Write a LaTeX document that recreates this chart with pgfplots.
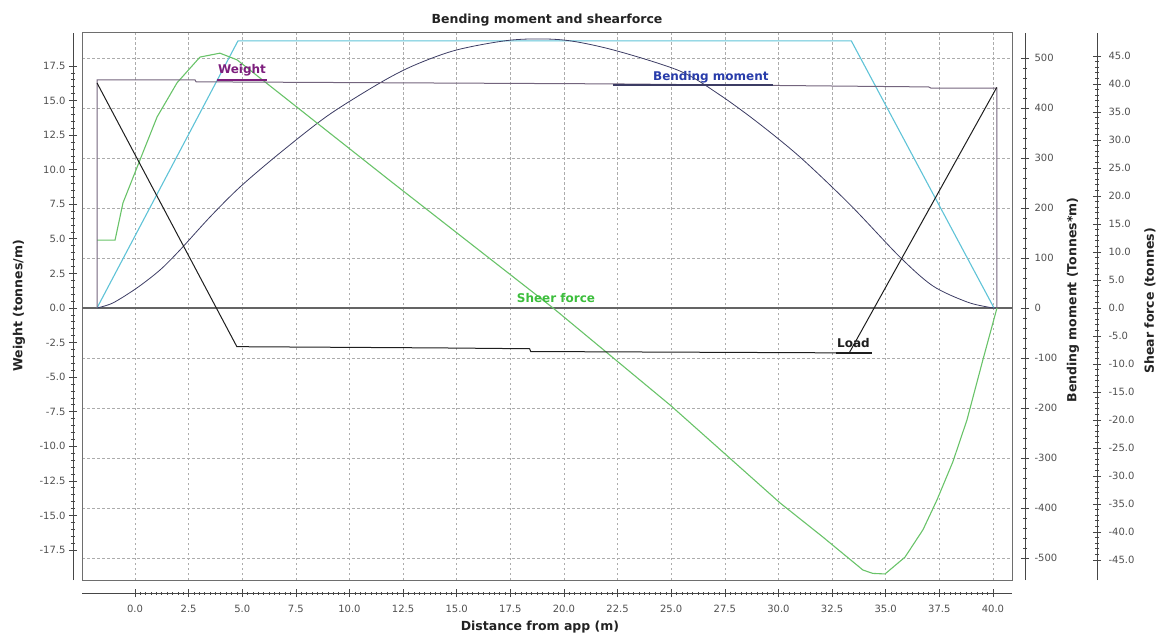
\documentclass[border=0pt]{standalone}
\usepackage{pgfplots}
\pgfplotsset{compat=1.18}
\usepackage{fontspec}
\setmainfont{DejaVu Sans}
\definecolor{cyanl}{RGB}{95,195,215}
\definecolor{shearc}{RGB}{105,195,105}
\definecolor{bmc}{RGB}{60,60,100}
\definecolor{loadc}{RGB}{30,30,30}
\definecolor{weightc}{RGB}{115,100,125}
\definecolor{weightlab}{RGB}{125,30,125}
\definecolor{bmlab}{RGB}{40,60,170}
\definecolor{shearlab}{RGB}{60,190,60}
\definecolor{framec}{RGB}{110,110,110}
\definecolor{zeroc}{RGB}{100,100,100}
\definecolor{spinec}{RGB}{70,70,70}
\definecolor{tickc}{RGB}{80,80,80}
\definecolor{labc}{RGB}{35,35,35}
\pgfplotsset{
  /pgf/number format/assume math mode=true,
  base/.style={scale only axis, width=930pt, height=547pt, xmin=-2.47, xmax=40.89, anchor=south west},
  hidden/.style={base, at={(82pt,61pt)}, hide axis},
  spine/.style={base,
    tick align=center, major tick length=8pt, minor tick length=4pt,
    tick style={draw=spinec, line width=0.6pt},
    ticklabel style={font=\fontsize{10}{12}\selectfont, text=tickc}},
  noarrow/.style={axis line style={-, draw=spinec, line width=0.8pt},
    every outer x axis line/.append style={-},
    every outer y axis line/.append style={-},
    every inner x axis line/.append style={-},
    every inner y axis line/.append style={-},
    x axis line style={-}, y axis line style={-}},
}
\begin{document}
\begin{tikzpicture}
\path[use as bounding box] (0pt,0pt) rectangle (1157pt,641pt);

% grid and frame
\begin{axis}[base, at={(82pt,61pt)}, ymin=-544.1, ymax=549.9,
  xtick={0,2.5,...,40}, ytick={-500,-400,...,500},
  xticklabels={}, yticklabels={}, major tick length=0pt,
  grid=major, grid style={gray!65, line width=0.6pt, dash pattern=on 2.5pt off 2.5pt},
  axis line style={draw=framec, line width=1pt}]
\addplot[zeroc, line width=2.6pt] coordinates {(-2.47,0) (40.89,0)};
\end{axis}

% bending moment units
\begin{axis}[hidden, ymin=-544.1, ymax=549.9]
\addplot[cyanl, line width=1.1pt] coordinates {(-1.77,0) (4.8,534) (33.4,534) (40.05,0)};
\addplot[bmc, line width=0.8pt, smooth] coordinates {(-1.77,0) (-1.03,10) (0.09,40) (1.17,76) (2.1,116) (3.5,182) (4.9,242) (6.76,310) (9,385) (11.42,450) (13,485) (15.0,516) (17.6,536) (19.95,536) (22.3,516) (25.4,474) (27.2,428) (29.0,372) (31.0,302) (33.33,207) (35.66,102) (37.2,44) (38.79,12) (39.86,1) (40.18,0)};
\end{axis}

% shear units
\begin{axis}[hidden, ymin=-48.58, ymax=49.10]
\addplot[shearc, line width=1.1pt] coordinates {(-1.77,12.1) (-0.93,12.1) (-0.56,18.75) (0.23,26.4) (1.03,34.1) (1.96,40.2) (3.03,44.8) (3.96,45.5) (4.76,44.3) (12,22.4) (19.49,0) (25,-17.5) (30.07,-34.8) (32.07,-40.9) (33.94,-46.8) (34.4,-47.4) (34.97,-47.5) (35.9,-44.5) (36.74,-39.6) (37.39,-34.3) (38.13,-27.5) (38.79,-20) (39.53,-9.3) (40.19,0)};
\end{axis}

% weight units
\begin{axis}[hidden, ymin=-19.67, ymax=19.88]
\addplot[weightc, line width=1pt] coordinates {(-1.77,0) (-1.77,16.49) (2.8,16.49) (2.85,16.35) (22.3,16.2) (37.0,15.98) (37.1,15.9) (40.18,15.9) (40.18,0)};
\addplot[loadc, line width=1pt] coordinates {(-1.77,16.27) (4.75,-2.80) (14.2,-2.89) (18.4,-2.95) (18.45,-3.15) (33.3,-3.25) (40.18,15.95)};
\draw[weightlab, line width=1.8pt] (axis cs:3.82,16.49) -- (axis cs:6.15,16.49);
\draw[bmc, line width=1.2pt] (axis cs:22.28,16.12) -- (axis cs:29.74,16.12);
\draw[loadc, line width=1.3pt] (axis cs:32.7,-3.25) -- (axis cs:34.36,-3.25);
\node[font=\bfseries\fontsize{12}{14}\selectfont, text=weightlab] at (axis cs:4.99,17.2) {Weight};
\node[font=\bfseries\fontsize{12}{14}\selectfont, text=bmlab] at (axis cs:26.85,16.7) {Bending moment};
\node[font=\bfseries\fontsize{12}{14}\selectfont, text=shearlab] at (axis cs:19.63,0.72) {Sheer force};
\node[font=\bfseries\fontsize{12}{14}\selectfont, text=loadc] at (axis cs:33.5,-2.53) {Load};
\end{axis}

% left spine
\begin{axis}[spine, at={(73pt,61pt)}, ymin=-19.67, ymax=19.88,
  axis y line=left, axis x line=none, noarrow,
  ytick={-17.5,-15,...,17.5}, minor y tick num=4,
  yticklabel style={/pgf/number format/.cd, fixed, fixed zerofill, precision=1}]
\end{axis}

% bottom spine
\begin{axis}[spine, at={(82pt,48pt)}, ymin=0, ymax=1,
  axis x line=bottom, axis y line=none, noarrow,
  xtick={0,2.5,...,40}, minor x tick num=9, minor tick length=3pt,
  xticklabel style={yshift=-5pt, /pgf/number format/.cd, fixed, fixed zerofill, precision=1}]
\end{axis}

% bending moment spine
\begin{axis}[spine, at={(95pt,61pt)}, ymin=-544.1, ymax=549.9,
  axis y line=right, axis x line=none, noarrow,
  ytick={-500,-400,...,500}, minor y tick num=4,
  yticklabel style={xshift=2pt, /pgf/number format/.cd, fixed, precision=0}]
\end{axis}

% shear spine
\begin{axis}[spine, at={(167pt,61pt)}, ymin=-48.58, ymax=49.10,
  axis y line=right, axis x line=none, noarrow,
  ytick={-45,-40,...,45}, minor y tick num=4,
  yticklabel style={xshift=4pt, /pgf/number format/.cd, fixed, fixed zerofill, precision=1}]
\end{axis}

% titles and labels
\node[font=\bfseries\fontsize{12.5}{14}\selectfont, text=labc] at (547pt,621pt) {Bending moment and shearforce};
\node[font=\bfseries\fontsize{12.5}{14}\selectfont, text=labc] at (540pt,14pt) {Distance from app (m)};
\node[font=\bfseries\fontsize{12.5}{14}\selectfont, text=labc, rotate=90] at (19pt,335pt) {Weight (tonnes/m)};
\node[font=\bfseries\fontsize{12.5}{14}\selectfont, text=labc, rotate=90] at (1073pt,341pt) {Bending moment (Tonnes*m)};
\node[font=\bfseries\fontsize{12.5}{14}\selectfont, text=labc, rotate=90] at (1150pt,340pt) {Shear force (tonnes)};
\end{tikzpicture}
\end{document}
